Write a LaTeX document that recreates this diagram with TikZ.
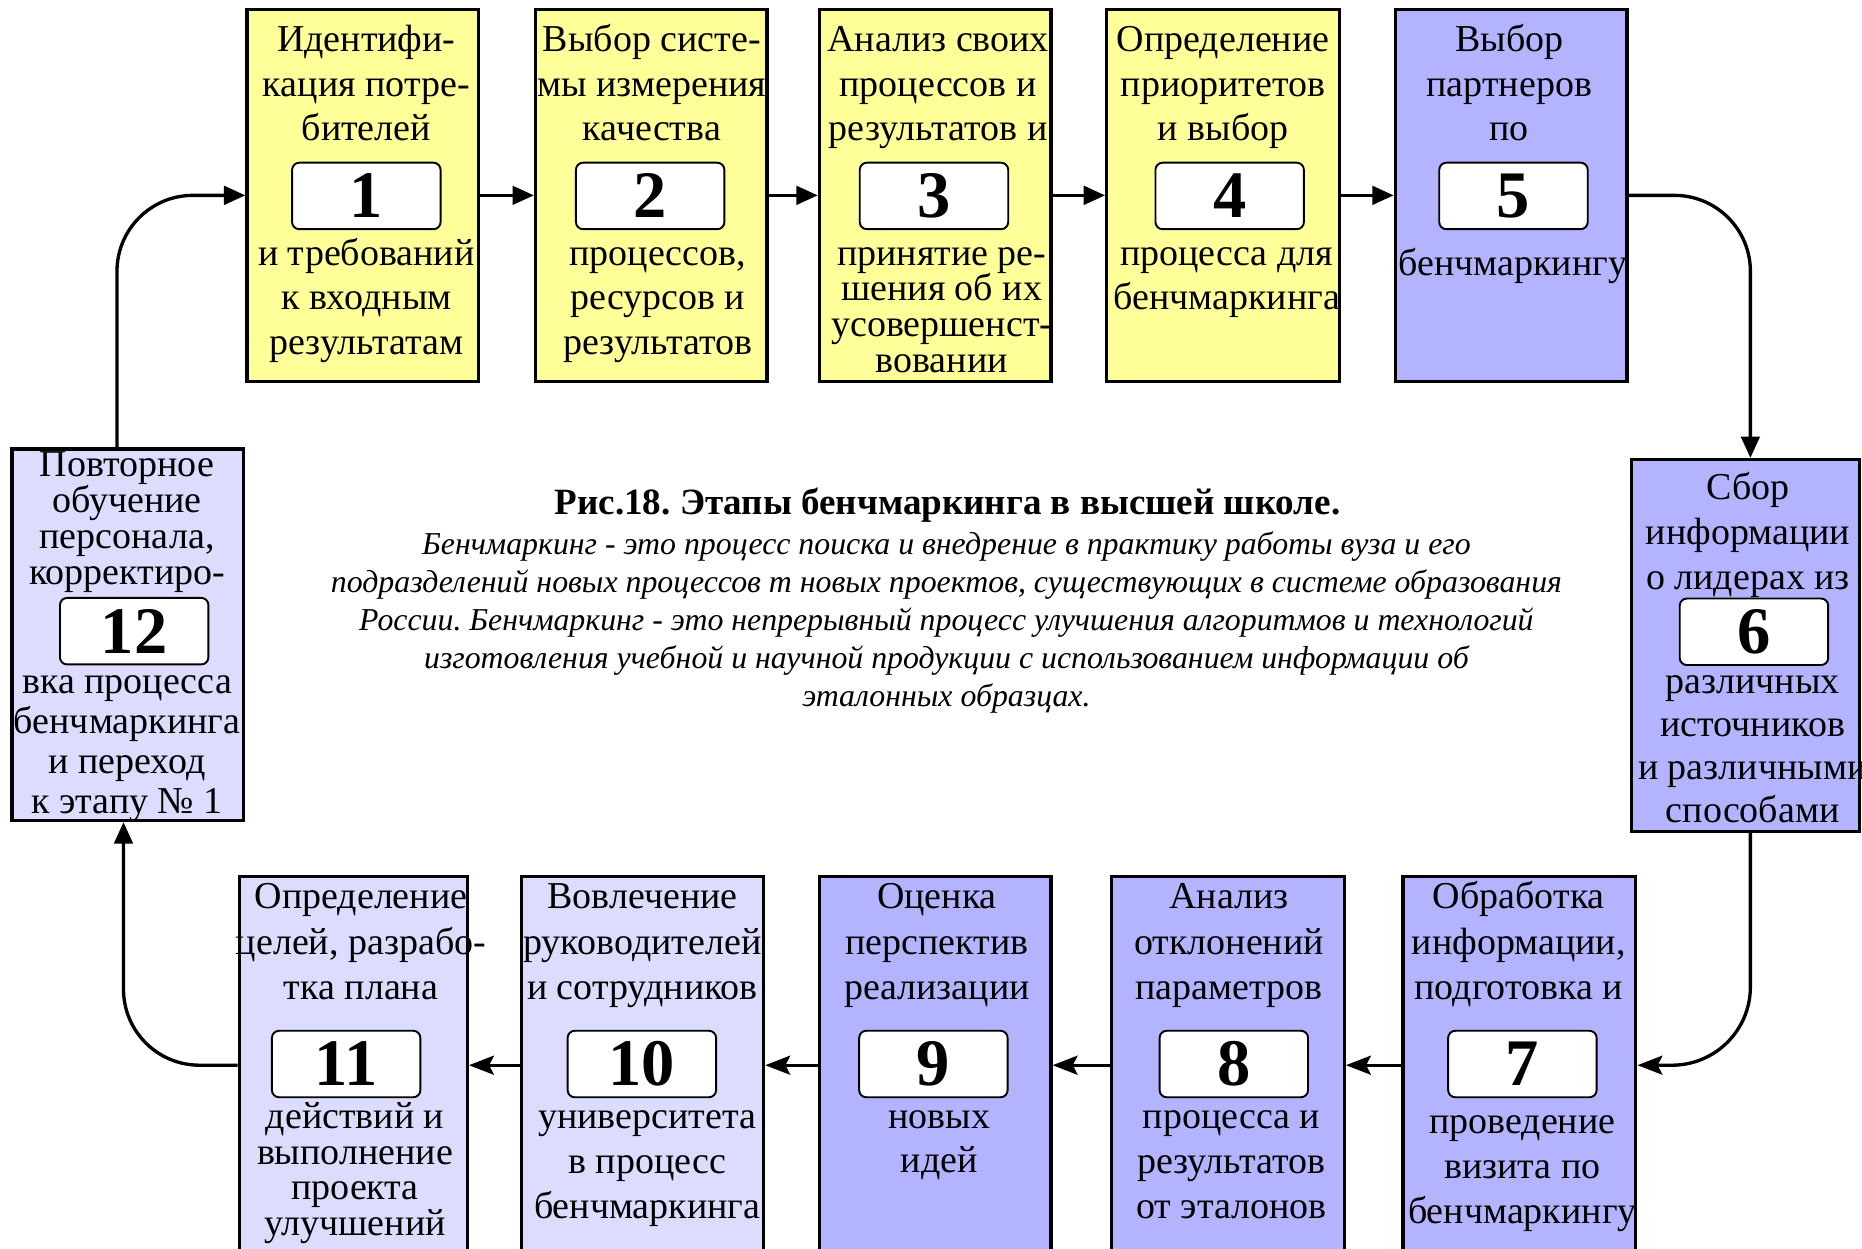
\documentclass[tikz,border=0pt]{standalone}
\usepackage{fontspec}
\setmainfont{Liberation Serif}
\usetikzlibrary{arrows.meta}
\frenchspacing

\definecolor{stageyellow}{HTML}{FFFF99}
\definecolor{stageblue}{HTML}{B3B3FF}
\definecolor{stagelight}{HTML}{DCDCFF}

% fixed-height strut that opens the first line of every text block
\newcommand\firstln{\rule{0pt}{12.8pt}}

\tikzset{
  stage/.style={draw=black, line width=1.4pt, inner sep=0pt},
  yellowstage/.style={stage, fill=stageyellow, minimum width=97.5pt, minimum height=156.5pt},
  numbox/.style={draw=black, fill=white, rounded corners=3pt, line width=0.8pt,
    minimum width=62.5pt, minimum height=28pt, inner sep=0pt,
    font=\fontsize{28}{28}\selectfont\bfseries},
  lbl/.style={align=center, inner sep=0pt, anchor=north,
    font=\fontsize{16}{18.75}\selectfont},
  lbltight/.style={lbl, font=\fontsize{16}{15}\selectfont},
  flow/.style={line width=1.4pt, -{Triangle[length=9pt,width=7.8pt]}},
  backflow/.style={line width=1.4pt, -{Stealth[length=10.5pt,width=8pt,inset=2pt]}},
}

\begin{document}
\begin{tikzpicture}[x=0.5pt,y=-0.5pt]
\useasboundingbox (0,0) rectangle (1568,1051);
\clip (0,0) rectangle (1568,1051);

% ---------- top row: stages 1-5 ----------
\node[yellowstage] (b1) at (305.5,164.5) {};
\node[yellowstage] (b2) at (548.5,164.5) {};
\node[yellowstage] (b3) at (787.5,164.5) {};
\node[yellowstage, minimum width=98pt] (b4) at (1030,164.5) {};
\node[stage, fill=stageblue, minimum width=97.5pt, minimum height=156.5pt] (b5) at (1272.5,164.5) {};

% ---------- right side: stage 6 ----------
\node[stage, fill=stageblue, minimum width=96pt, minimum height=156.5pt] (b6) at (1470,543.5) {};

% ---------- bottom row: stages 7-11 ----------
\node[stage, fill=stageblue, minimum width=98pt, minimum height=159pt] (b7) at (1279.5,897) {};
\node[stage, fill=stageblue, minimum width=98pt, minimum height=159pt] (b8) at (1034,897) {};
\node[stage, fill=stageblue, minimum width=97.5pt, minimum height=159pt] (b9) at (787.5,897) {};
\node[stage, fill=stagelight, minimum width=102pt, minimum height=159pt] (b10) at (541,897) {};
\node[stage, fill=stagelight, minimum width=96pt, minimum height=159pt] (b11) at (297.5,897) {};

% ---------- left side: stage 12 ----------
\node[stage, fill=stagelight, minimum width=97.5pt, minimum height=156.5pt] (b12) at (107.5,534.5) {};

% ---------- stage numbers ----------
\node[numbox] (n1) at (308.5,165) {1};
\node[numbox] (n2) at (547.5,165) {2};
\node[numbox] (n3) at (786.5,165) {3};
\node[numbox] (n4) at (1035.5,165) {4};
\node[numbox] (n5) at (1274.5,165) {5};
\node[numbox] (n6) at (1477,532) {6};
\node[numbox] (n7) at (1282,896) {7};
\node[numbox] (n8) at (1039,896) {8};
\node[numbox] (n9) at (786,896) {9};
\node[numbox] (n10) at (540.5,896) {10};
\node[numbox] (n11) at (291.5,896) {11};
\node[numbox] (n12) at (113,531.5) {12};

% ---------- stage texts ----------
\node[lbl] (t1a) at (308.5,17.4) {\firstln Идентифи-\\кация потре-\\бителей};
\node[lbl] (t1b) at (308.5,197.4) {\firstln и требований\\к входным\\результатам};
\node[lbl] (t2a) at (549,17.4) {\firstln Выбор систе-\\мы измерения\\качества};
\node[lbl] (t2b) at (554,197.4) {\firstln процессов,\\ресурсов и\\результатов};
\node[lbl] (t3a) at (790,17.4) {\firstln Анализ своих\\процессов и\\результатов и};
\node[lbltight] (t3b) at (793,197.4) {\firstln принятие ре-\\шения об их\\усовершенст-\\вовании};
\node[lbl] (t4a) at (1030,17.4) {\firstln Определение\\приоритетов\\и выбор};
\node[lbl] (t4b) at (1033,197.4) {\firstln процесса для\\бенчмаркинга};
\node[lbl] (t5a) at (1271,17.4) {\firstln Выбор\\партнеров\\по};
\node[lbl] (t5b) at (1274,206.4) {\firstln бенчмаркингу};
\node[lbl, font=\fontsize{16}{19}\selectfont] (t6a) at (1472,394.4) {\firstln Сбор\\информации\\о лидерах из};
\node[lbl, font=\fontsize{16}{18}\selectfont] (t6b) at (1476,558.4) {\firstln различных\\источников\\и различными\\способами};
\node[lbl, font=\fontsize{16}{19}\selectfont] (t7a) at (1279,739.4) {\firstln Обработка\\информации,\\подготовка и};
\node[lbl, font=\fontsize{16}{19}\selectfont] (t7b) at (1282,928.4) {\firstln проведение\\визита по\\бенчмаркингу};
\node[lbl, font=\fontsize{16}{19}\selectfont] (t8a) at (1035,739.4) {\firstln Анализ\\отклонений\\параметров};
\node[lbl, font=\fontsize{16}{19}\selectfont] (t8b) at (1037,924.4) {\firstln процесса и\\результатов\\от эталонов};
\node[lbl, font=\fontsize{16}{19}\selectfont] (t9a) at (789,739.4) {\firstln Оценка\\перспектив\\реализации};
\node[lbl, font=\fontsize{16}{18.5}\selectfont] (t9b) at (791,924.4) {\firstln новых\\идей};
\node[lbl, font=\fontsize{16}{19}\selectfont] (t10a) at (541,739.4) {\firstln Вовлечение\\руководителей\\и сотрудников};
\node[lbl, font=\fontsize{16}{19}\selectfont] (t10b) at (545,924.4) {\firstln университета\\в процесс\\бенчмаркинга};
\node[lbl, font=\fontsize{16}{19}\selectfont] (t11a) at (304,739.4) {\firstln Определение\\целей, разрабо-\\тка плана};
\node[lbltight] (t11b) at (299,924.4) {\firstln действий и\\выполнение\\проекта\\улучшений};
\node[lbl, font=\fontsize{16}{15.2}\selectfont] (t12a) at (107,375.4) {\firstln Повторное\\обучение\\персонала,\\корректиро-};
\node[lbl, font=\fontsize{16}{16.8}\selectfont] (t12b) at (107,558.4) {\firstln вка процесса\\бенчмаркинга\\и переход\\к этапу № 1};

% ---------- caption ----------
\node[inner sep=0pt, font=\fontsize{15.6}{19}\selectfont\bfseries] (title) at (798,425)
  {Рис.18. Этапы бенчмаркинга в высшей школе.};
\node[align=center, inner sep=0pt, font=\fontsize{13.4}{16}\selectfont\itshape] (desc) at (797,524.5)
  {Бенчмаркинг - это процесс поиска и внедрение в практику работы вуза и его\\
   подразделений новых процессов т новых проектов, существующих в системе образования\\
   России. Бенчмаркинг - это непрерывный процесс улучшения алгоритмов и технологий\\
   изготовления учебной и научной продукции с использованием информации об\\
   эталонных образцах.};

% ---------- connectors ----------
\draw[flow] (b1.east) -- (b2.west);
\draw[flow] (b2.east) -- (b3.west);
\draw[flow] (b3.east) -- (b4.west);
\draw[flow] (b4.east) -- (b5.west);
\draw[flow, rounded corners=32pt] (b5.east) -| ([xshift=2pt]b6.north);
\draw[backflow, rounded corners=33pt] ([xshift=2pt]b6.south) |- (b7.east);
\draw[backflow] (b7.west) -- (b8.east);
\draw[backflow] (b8.west) -- (b9.east);
\draw[backflow] (b9.west) -- (b10.east);
\draw[backflow] (b10.west) -- (b11.east);
\draw[flow, rounded corners=32pt] (b11.west) -| ([xshift=-1.75pt]b12.south);
\draw[flow, rounded corners=32pt] ([xshift=-4.5pt]b12.north) |- (b1.west);
\end{tikzpicture}
\end{document}
